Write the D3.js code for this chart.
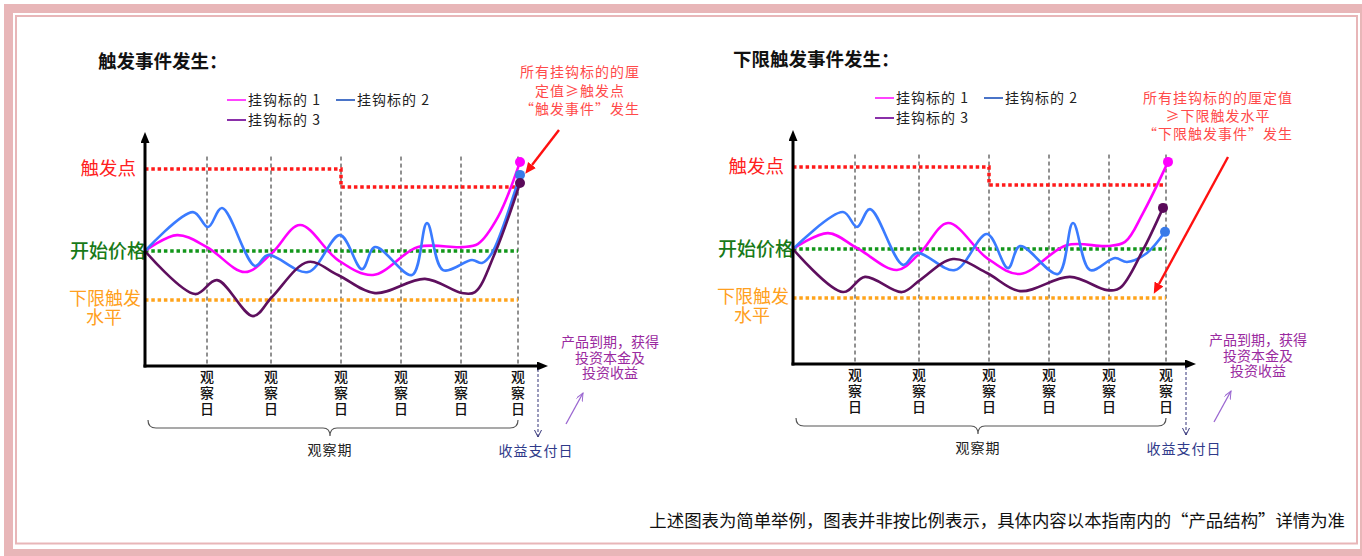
<!DOCTYPE html>
<html><head><meta charset="utf-8">
<script src="https://cdn.jsdelivr.net/npm/d3@7/dist/d3.min.js"></script>
<style>
html, body { margin: 0; padding: 0; background: #fff }
svg { display: block; font-family: "Noto Sans CJK SC", "Noto Sans", sans-serif }
</style></head>
<body><svg></svg>
<script>
'use strict'

// values: x in days from start, y in % of start price
let obs_days = [62, 126, 196, 256, 316, 373],
	obs_chars = ['观', '察', '日'],
	pay_day = 393,
	start_price = 100,
	knock_in_level = 80,
	trigger_steps = [[0, 133.5], [196, 133.5], [196, 126.2], [373, 126.2]],
	series_names = ['挂钩标的 1', '挂钩标的 2', '挂钩标的 3'],
	titles = ['触发事件发生：', '下限触发事件发生：'],
	notes = [
		['所有挂钩标的的厘', '定值≥触发点', '“触发事件”发生'],
		['所有挂钩标的的厘定值', '≥下限触发水平', '“下限触发事件”发生'] ],
	maturity_note = ['产品到期，获得', '投资本金及', '投资收益'],
	footnote = '上述图表为简单举例，图表并非按比例表示，具体内容以本指南内的“产品结构”详情为准'

let pink_a = [[0, 100], [32, 106.5], [62, 101.6], [100, 91.4], [127, 99.2], [155, 110.6],
		[193, 96.3], [228, 90.2], [273, 101.6], [317, 101.6], [333, 102.9], [353, 113.9], [375, 136.4]],
	blue_a = [[0, 100], [48, 115.9], [63, 109.8], [77, 117.6], [110, 93.9], [123, 98.4], [163, 91.4],
		[195, 106.5], [217, 92.6], [230, 101.6], [267, 90.2], [282, 111.4], [298, 92.2], [327, 96.3],
		[337, 95.1], [347, 99.2], [375, 131.1]],
	purple_a = [[0, 100], [50, 82.4], [72, 88.1], [108, 73.4], [127, 81.2], [163, 95.5], [193, 90.2],
		[230, 82.8], [280, 88.6], [317, 82.8], [330, 83.2], [350, 99.2], [375, 127.8]]

let pink_b = [[0, 100], [35, 106.5], [64, 100.4], [104, 91.4], [127, 98.4], [155, 110.6],
		[194, 96.3], [227, 89.8], [274, 101.6], [314, 101.2], [332, 102.9], [350, 114.7], [375, 135.6]],
	blue_b = [[0, 100], [50, 115.1], [64, 109.0], [77, 116.3], [110, 93.5], [124, 98.4], [162, 91.4],
		[194, 106.1], [215, 92.2], [227, 101.2], [265, 89.8], [280, 110.6], [297, 91.4], [322, 96.3],
		[334, 94.7], [354, 98.4], [372, 107.0]],
	purple_b = [[0, 100], [50, 82.4], [72, 88.6], [109, 82.4], [127, 87.3], [160, 95.9], [194, 90.2],
		[227, 82.8], [277, 88.6], [314, 83.2], [327, 84.1], [350, 99.6], [370, 116.8]]

let panel_series = [[pink_a, blue_a, purple_a], [pink_b, blue_b, purple_b]]

// look
let W = 1362, H = 556,
	pink = '#e8b6b8',
	curve_colors = ['#ff00ff', '#3a7bff', '#5e0f5e'],
	legend_colors = ['#ff44ff', '#4a74c8', '#8a2fa8'],
	dot_colors = ['#ff00ff', '#3a7be8', '#5a0a5a']

let x = d3.scaleLinear().domain([0, 400]).range([145, 545]),
	y = d3.scaleLinear().domain([53, 147]).range([366, 136]),
	line = d3.line().x(d => x(d[0])).y(d => y(d[1])).curve(d3.curveCatmullRom.alpha(0.5))

let svg = d3.select('svg').attr('width', W).attr('height', H)
svg.append('rect').attr('width', W).attr('height', H).attr('fill', '#fff')

// frame
svg.append('rect').attr('x', 8.5).attr('y', 8.5).attr('width', 1356).attr('height', 545)
	.attr('fill', 'none').attr('stroke', pink).attr('stroke-width', 9)
svg.append('rect').attr('x', 16).attr('y', 16).attr('width', 1341).attr('height', 527.5)
	.attr('fill', 'none').attr('stroke', pink).attr('stroke-width', 2)

let defs = svg.append('defs'),
	marker = (id, color, w, h, open) => defs.append('marker').attr('id', id)
		.attr('markerUnits', 'userSpaceOnUse').attr('orient', 'auto')
		.attr('markerWidth', w + 2).attr('markerHeight', h + 2)
		.attr('refX', open ? w : 0).attr('refY', h / 2)
		.append('path')
			.attr('d', open ? `M0,0L${w},${h/2}L0,${h}` : `M0,0L${w},${h/2}L0,${h}Z`)
			.attr('fill', open ? 'none' : color).attr('stroke', open ? color : 'none')
			.attr('stroke-width', 1)
marker('ax', '#000', 11, 9)
marker('red', '#ff1010', 11, 10)
marker('pur', '#9a66d0', 8, 7, true)
marker('blu', '#34347a', 7, 7, true)

let panel_offsets = [[0, 0], [648, -2]],
	title_x = [98, 85],
	note_cx = [580, 570],
	note_y = [[77, 96, 114], [105, 123, 141]],
	red_arrow = [[559, 130, 532, 165], [580, 159, 511, 286]]

panel_series.forEach((series, pi) => {
	let [ox, oy] = panel_offsets[pi],
		g = svg.append('g').attr('transform', `translate(${ox} ${oy})`)

	g.append('text').attr('x', title_x[pi]).attr('y', 68)
		.attr('font-size', 18.5).attr('font-weight', 'bold').attr('fill', '#111').text(titles[pi])

	// legend
	let leg_pos = [[227, 100], [336, 100], [227, 120]]
	series_names.forEach((name, i) => {
		let [lx, ly] = leg_pos[i]
		g.append('line').attr('x1', lx).attr('x2', lx + 19).attr('y1', ly).attr('y2', ly)
			.attr('stroke', legend_colors[i]).attr('stroke-width', 2)
		g.append('text').attr('x', lx + 21).attr('y', ly + 5).attr('font-size', 14)
			.attr('letter-spacing', 1).attr('fill', '#222').text(name)
	})

	// observation day guides
	g.selectAll('line.obs').data(obs_days).join('line').attr('class', 'obs')
		.attr('x1', d => x(d)).attr('x2', d => x(d)).attr('y1', y(138.6)).attr('y2', y(53))
		.attr('stroke', '#222').attr('stroke-width', 1).attr('stroke-dasharray', '4,3')
	obs_days.forEach(d => obs_chars.forEach((c, i) =>
		g.append('text').attr('x', x(d)).attr('y', 382 + 16 * i).attr('text-anchor', 'middle')
			.attr('font-size', 14).attr('font-weight', 500).attr('fill', '#111').text(c)))

	// levels
	let dotted = (pts, color) => g.append('path')
		.attr('d', d3.line().x(d => x(d[0])).y(d => y(d[1]))(pts))
		.attr('fill', 'none').attr('stroke', color).attr('stroke-width', 3.5)
		.attr('stroke-dasharray', '3.5,2.8')
	dotted(trigger_steps, '#ff1a1a')
	dotted([[0, start_price], [obs_days[5], start_price]], '#12961a')
	dotted([[0, knock_in_level], [obs_days[5], knock_in_level]], '#ffa41c')

	g.append('text').attr('x', 136).attr('y', y(trigger_steps[0][1]) + 6).attr('text-anchor', 'end')
		.attr('font-size', 18.5).attr('fill', '#ff2020').text('触发点')
	g.append('text').attr('x', 146).attr('y', y(start_price) + 6.5).attr('text-anchor', 'end')
		.attr('font-size', 19).attr('font-weight', 500).attr('fill', '#187a18').text('开始价格')
	g.append('text').attr('x', 141).attr('y', y(knock_in_level) + 5).attr('text-anchor', 'end')
		.attr('font-size', 18).attr('fill', '#ffa020').text('下限触发')
	g.append('text').attr('x', 104).attr('y', y(knock_in_level) + 24).attr('text-anchor', 'middle')
		.attr('font-size', 18).attr('fill', '#ffa020').text('水平')

	// curves
	series.forEach((s, i) => {
		g.append('path').attr('d', line(s)).attr('fill', 'none')
			.attr('stroke', curve_colors[i]).attr('stroke-width', 2.6)
		let last = s[s.length - 1]
		g.append('circle').attr('cx', x(last[0])).attr('cy', y(last[1])).attr('r', 5)
			.attr('fill', dot_colors[i])
	})

	// axes
	g.append('line').attr('x1', x(0)).attr('x2', x(0)).attr('y1', y(53) + 1.5).attr('y2', 143)
		.attr('stroke', '#000').attr('stroke-width', 3).attr('marker-end', 'url(#ax)')
	g.append('line').attr('x1', x(0) - 1.5).attr('x2', 537).attr('y1', y(53)).attr('y2', y(53))
		.attr('stroke', '#000').attr('stroke-width', 3).attr('marker-end', 'url(#ax)')

	// trigger annotation
	notes[pi].forEach((t, i) => g.append('text').attr('x', note_cx[pi]).attr('y', note_y[pi][i])
		.attr('text-anchor', 'middle').attr('font-size', 14).attr('letter-spacing', 1)
		.attr('fill', '#ff4a4a').text(t))
	let [ax1, ay1, ax2, ay2] = red_arrow[pi]
	g.append('line').attr('x1', ax1).attr('y1', ay1).attr('x2', ax2).attr('y2', ay2)
		.attr('stroke', '#ff1010').attr('stroke-width', 2.4).attr('marker-end', 'url(#red)')

	// payment day
	g.append('line').attr('x1', x(pay_day)).attr('x2', x(pay_day)).attr('y1', y(53) + 3).attr('y2', 437)
		.attr('stroke', '#34347a').attr('stroke-width', 1).attr('stroke-dasharray', '3,2')
		.attr('marker-end', 'url(#blu)')
	g.append('text').attr('x', x(pay_day) - 2).attr('y', 456).attr('text-anchor', 'middle')
		.attr('font-size', 14).attr('letter-spacing', 1).attr('fill', '#2f3a8a').text('收益支付日')

	maturity_note.forEach((t, i) => g.append('text').attr('x', 610).attr('y', 347 + 15.5 * i)
		.attr('text-anchor', 'middle').attr('font-size', 14).attr('fill', '#9a2aa0').text(t))
	g.append('line').attr('x1', 566).attr('y1', 424).attr('x2', 583).attr('y2', 393)
		.attr('stroke', '#9a66d0').attr('stroke-width', 1.3).attr('marker-end', 'url(#pur)')

	// observation period brace
	let bx0 = x(3), bx1 = x(obs_days[5]), bm = x(185), by = 428
	g.append('path')
		.attr('d', `M${bx0},${by-8}Q${bx0},${by} ${bx0+8},${by}L${bm-7},${by}Q${bm},${by} ${bm},${by+8}`
			+ `Q${bm},${by} ${bm+7},${by}L${bx1-8},${by}Q${bx1},${by} ${bx1},${by-8}`)
		.attr('fill', 'none').attr('stroke', '#555').attr('stroke-width', 1.2)
	g.append('text').attr('x', bm).attr('y', 455).attr('text-anchor', 'middle')
		.attr('font-size', 14).attr('letter-spacing', 1).attr('fill', '#222').text('观察期')
})

svg.append('text').attr('x', 1345).attr('y', 527).attr('text-anchor', 'end')
	.attr('font-size', 17.4).attr('fill', '#111').text(footnote)
</script></body></html>
